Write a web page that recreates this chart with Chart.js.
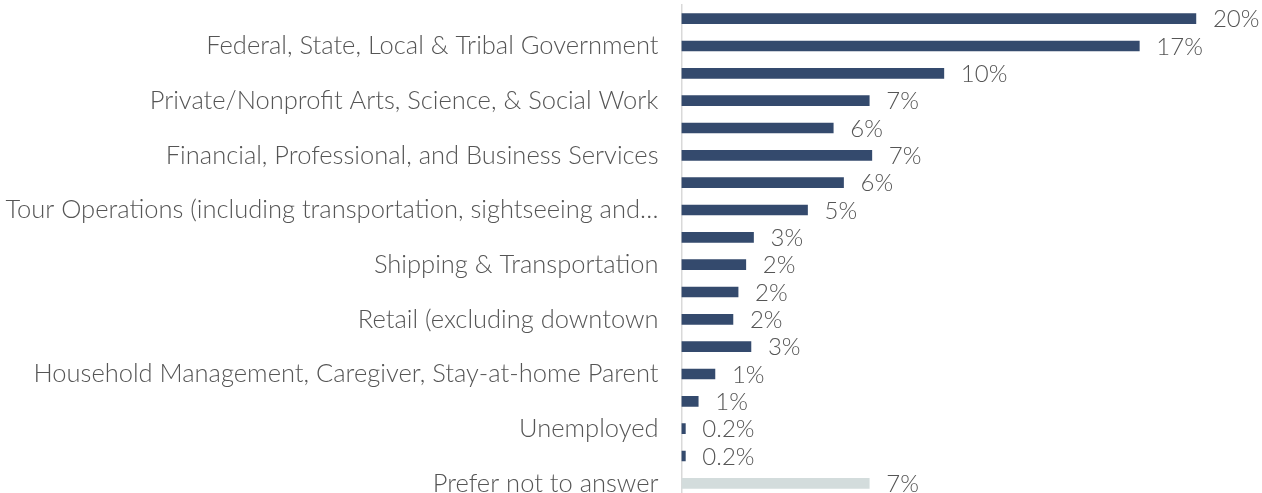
<!DOCTYPE html>
<html>
<head>
<meta charset="utf-8">
<script src="https://cdn.jsdelivr.net/npm/chart.js@4"></script>
<style>
  html, body { margin: 0; padding: 0; background: #ffffff; overflow: hidden; }
  #wrap { position: relative; width: 1262px; height: 497px; }
</style>
</head>
<body>
<div id="wrap"><canvas id="c"></canvas></div>
<script>
// Category labels (only every other label is legible in the reference)
const categories = [
  '',
  'Federal, State, Local & Tribal Government',
  '',
  'Private/Nonprofit Arts, Science, & Social Work',
  '',
  'Financial, Professional, and Business Services',
  '',
  'Tour Operations (including transportation, sightseeing and\u2026',
  '',
  'Shipping & Transportation',
  '',
  'Retail (excluding downtown',
  '',
  'Household Management, Caregiver, Stay-at-home Parent',
  '',
  'Unemployed',
  '',
  'Prefer not to answer'
];
// Bar lengths (percent)
const values = [20.0, 17.8, 10.2, 7.3, 5.9, 7.4, 6.3, 4.9, 2.8, 2.5, 2.2, 2.0, 2.7, 1.3, 0.65, 0.15, 0.15, 7.3];
// Value labels as printed in the picture
const valueLabels = ['20%', '17%', '10%', '7%', '6%', '7%', '6%', '5%', '3%', '2%', '2%', '2%', '3%', '1%', '1%', '0.2%', '0.2%', '7%'];
const barColors = values.map((v, i) => i === values.length - 1 ? '#d3dcdc' : '#344a6d');

const FONT = 'Lato, "Open Sans", sans-serif';

const valueLabelPlugin = {
  id: 'valueLabels',
  afterDatasetsDraw(chart) {
    const ctx = chart.ctx;
    const meta = chart.getDatasetMeta(0);
    ctx.save();
    ctx.font = '300 24px ' + FONT;
    ctx.fillStyle = '#555555';
    ctx.textAlign = 'left';
    ctx.textBaseline = 'middle';
    meta.data.forEach((bar, i) => {
      ctx.fillText(valueLabels[i], bar.x + 17, bar.y + 1);
    });
    ctx.restore();
  }
};

new Chart(document.getElementById('c'), {
  type: 'bar',
  data: {
    labels: categories,
    datasets: [{
      data: values,
      backgroundColor: barColors,
      barThickness: 10,
      borderWidth: 0
    }]
  },
  options: {
    indexAxis: 'y',
    responsive: true,
    maintainAspectRatio: false,
    animation: false,
    layout: { padding: { top: 5, bottom: 0, left: 0, right: 0 } },
    plugins: {
      legend: { display: false },
      tooltip: { enabled: false }
    },
    scales: {
      x: {
        display: false,
        min: 0,
        max: 22.57
      },
      y: {
        afterFit(scale) {
          scale.width = 681.5;
          scale.paddingTop = 0;
          scale.paddingBottom = 0;
        },
        grid: { display: false, drawTicks: false },
        border: { display: true, color: '#d9d9d9', width: 1.5 },
        ticks: {
          autoSkip: false,
          padding: 23,
          color: '#555555',
          font: { family: FONT, size: 25.5, weight: '300' }
        }
      }
    }
  },
  plugins: [valueLabelPlugin]
});
</script>
</body>
</html>
